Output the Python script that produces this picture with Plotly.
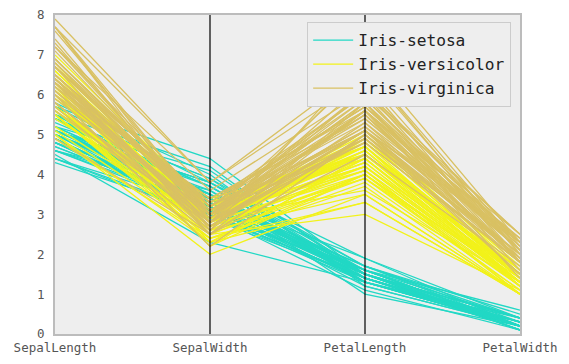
import plotly.graph_objects as go

columns = ["SepalLength", "SepalWidth", "PetalLength", "PetalWidth"]
classes = ["Iris-setosa", "Iris-versicolor", "Iris-virginica"]
colors = ["#22d8c5", "#f2f21a", "#d9c163"]

setosa = [
    [5.1,3.5,1.4,0.2],[4.9,3.0,1.4,0.2],[4.7,3.2,1.3,0.2],[4.6,3.1,1.5,0.2],[5.0,3.6,1.4,0.2],
    [5.4,3.9,1.7,0.4],[4.6,3.4,1.4,0.3],[5.0,3.4,1.5,0.2],[4.4,2.9,1.4,0.2],[4.9,3.1,1.5,0.1],
    [5.4,3.7,1.5,0.2],[4.8,3.4,1.6,0.2],[4.8,3.0,1.4,0.1],[4.3,3.0,1.1,0.1],[5.8,4.0,1.2,0.2],
    [5.7,4.4,1.5,0.4],[5.4,3.9,1.3,0.4],[5.1,3.5,1.4,0.3],[5.7,3.8,1.7,0.3],[5.1,3.8,1.5,0.3],
    [5.4,3.4,1.7,0.2],[5.1,3.7,1.5,0.4],[4.6,3.6,1.0,0.2],[5.1,3.3,1.7,0.5],[4.8,3.4,1.9,0.2],
    [5.0,3.0,1.6,0.2],[5.0,3.4,1.6,0.4],[5.2,3.5,1.5,0.2],[5.2,3.4,1.4,0.2],[4.7,3.2,1.6,0.2],
    [4.8,3.1,1.6,0.2],[5.4,3.4,1.5,0.4],[5.2,4.1,1.5,0.1],[5.5,4.2,1.4,0.2],[4.9,3.1,1.5,0.1],
    [5.0,3.2,1.2,0.2],[5.5,3.5,1.3,0.2],[4.9,3.1,1.5,0.1],[4.4,3.0,1.3,0.2],[5.1,3.4,1.5,0.2],
    [5.0,3.5,1.3,0.3],[4.5,2.3,1.3,0.3],[4.4,3.2,1.3,0.2],[5.0,3.5,1.6,0.6],[5.1,3.8,1.9,0.4],
    [4.8,3.0,1.4,0.3],[5.1,3.8,1.6,0.2],[4.6,3.2,1.4,0.2],[5.3,3.7,1.5,0.2],[5.0,3.3,1.4,0.2],
]
versicolor = [
    [7.0,3.2,4.7,1.4],[6.4,3.2,4.5,1.5],[6.9,3.1,4.9,1.5],[5.5,2.3,4.0,1.3],[6.5,2.8,4.6,1.5],
    [5.7,2.8,4.5,1.3],[6.3,3.3,4.7,1.6],[4.9,2.4,3.3,1.0],[6.6,2.9,4.6,1.3],[5.2,2.7,3.9,1.4],
    [5.0,2.0,3.5,1.0],[5.9,3.0,4.2,1.5],[6.0,2.2,4.0,1.0],[6.1,2.9,4.7,1.4],[5.6,2.9,3.6,1.3],
    [6.7,3.1,4.4,1.4],[5.6,3.0,4.5,1.5],[5.8,2.7,4.1,1.0],[6.2,2.2,4.5,1.5],[5.6,2.5,3.9,1.1],
    [5.9,3.2,4.8,1.8],[6.1,2.8,4.0,1.3],[6.3,2.5,4.9,1.5],[6.1,2.8,4.7,1.2],[6.4,2.9,4.3,1.3],
    [6.6,3.0,4.4,1.4],[6.8,2.8,4.8,1.4],[6.7,3.0,5.0,1.7],[6.0,2.9,4.5,1.5],[5.7,2.6,3.5,1.0],
    [5.5,2.4,3.8,1.1],[5.5,2.4,3.7,1.0],[5.8,2.7,3.9,1.2],[6.0,2.7,5.1,1.6],[5.4,3.0,4.5,1.5],
    [6.0,3.4,4.5,1.6],[6.7,3.1,4.7,1.5],[6.3,2.3,4.4,1.3],[5.6,3.0,4.1,1.3],[5.5,2.5,4.0,1.3],
    [5.5,2.6,4.4,1.2],[6.1,3.0,4.6,1.4],[5.8,2.6,4.0,1.2],[5.0,2.3,3.3,1.0],[5.6,2.7,4.2,1.3],
    [5.7,3.0,4.2,1.2],[5.7,2.9,4.2,1.3],[6.2,2.9,4.3,1.3],[5.1,2.5,3.0,1.1],[5.7,2.8,4.1,1.3],
]
virginica = [
    [6.3,3.3,6.0,2.5],[5.8,2.7,5.1,1.9],[7.1,3.0,5.9,2.1],[6.3,2.9,5.6,1.8],[6.5,3.0,5.8,2.2],
    [7.6,3.0,6.6,2.1],[4.9,2.5,4.5,1.7],[7.3,2.9,6.3,1.8],[6.7,2.5,5.8,1.8],[7.2,3.6,6.1,2.5],
    [6.5,3.2,5.1,2.0],[6.4,2.7,5.3,1.9],[6.8,3.0,5.5,2.1],[5.7,2.5,5.0,2.0],[5.8,2.8,5.1,2.4],
    [6.4,3.2,5.3,2.3],[6.5,3.0,5.5,1.8],[7.7,3.8,6.7,2.2],[7.7,2.6,6.9,2.3],[6.0,2.2,5.0,1.5],
    [6.9,3.2,5.7,2.3],[5.6,2.8,4.9,2.0],[7.7,2.8,6.7,2.0],[6.3,2.7,4.9,1.8],[6.7,3.3,5.7,2.1],
    [7.2,3.2,6.0,1.8],[6.2,2.8,4.8,1.8],[6.1,3.0,4.9,1.8],[6.4,2.8,5.6,2.1],[7.2,3.0,5.8,1.6],
    [7.4,2.8,6.1,1.9],[7.9,3.8,6.4,2.0],[6.4,2.8,5.6,2.2],[6.3,2.8,5.1,1.5],[6.1,2.6,5.6,1.4],
    [7.7,3.0,6.1,2.3],[6.3,3.4,5.6,2.4],[6.4,3.1,5.5,1.8],[6.0,3.0,4.8,1.8],[6.9,3.1,5.4,2.1],
    [6.7,3.1,5.6,2.4],[6.9,3.1,5.1,2.3],[5.8,2.7,5.1,1.9],[6.8,3.2,5.9,2.3],[6.7,3.3,5.7,2.5],
    [6.7,3.0,5.2,2.3],[6.3,2.5,5.0,1.9],[6.5,3.0,5.2,2.0],[6.2,3.4,5.4,2.3],[5.9,3.0,5.1,1.8],
]
y_ticks = [0, 1, 2, 3, 4, 5, 6, 7, 8]

fig = go.Figure()
for name, rows, color in zip(classes, [setosa, versicolor, virginica], colors):
    xs, ys = [], []
    for r in rows:
        xs += list(range(len(columns))) + [None]
        ys += list(r) + [None]
    fig.add_trace(go.Scatter(x=xs, y=ys, mode="lines", name=name,
                             line=dict(color=color, width=1.3), connectgaps=False,
                             hoverinfo="skip"))

for i in range(1, len(columns) - 1):
    fig.add_shape(type="line", xref="x", yref="paper", x0=i, x1=i, y0=0, y1=1,
                  line=dict(color="black", width=1.2), layer="above")

font_family = "DejaVu Sans Mono"
# the page body adds an 8px offset, so the figure is sized 8px smaller
fig.update_layout(
    width=561, height=356,
    margin=dict(l=47, r=49, t=7, b=30, autoexpand=False),
    paper_bgcolor="white", plot_bgcolor="#eeeeee",
    font=dict(family=font_family, size=12, color="#555555"),
    showlegend=True,
    legend=dict(x=0.981, y=0.978, xanchor="right", yanchor="top",
                bgcolor="#eeeeee", bordercolor="#cccccc", borderwidth=1,
                font=dict(family=font_family, size=16.2, color="#222222"),
                tracegroupgap=0, itemwidth=40),
    xaxis=dict(range=[0, len(columns) - 1], tickvals=list(range(len(columns))),
               ticktext=columns, showgrid=False, zeroline=False, automargin=False,
               showline=True, linecolor="#bcbcbc", linewidth=2, mirror=True,
               ticks="", ticklabeloverflow="allow", ticklabelstandoff=1,
               tickfont=dict(size=12.5, color="#555555")),
    yaxis=dict(range=[0, 8], tickvals=y_ticks, showgrid=False, zeroline=False,
               automargin=False, ticklabeloverflow="allow", ticklabelstandoff=6,
               showline=True, linecolor="#bcbcbc", linewidth=2, mirror=True,
               ticks="", tickfont=dict(size=12.5, color="#555555")),
)

fig.write_html("out.html")
